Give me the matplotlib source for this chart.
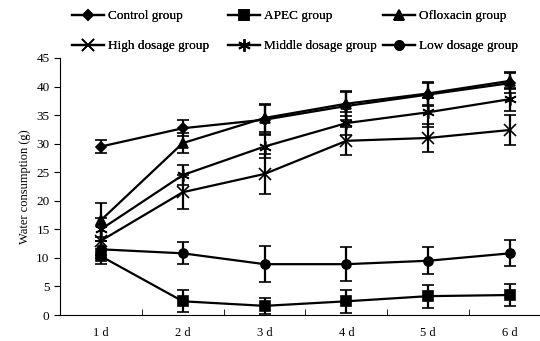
import matplotlib
matplotlib.use("Agg")
import matplotlib.pyplot as plt

days = ["1 d", "2 d", "3 d", "4 d", "5 d", "6 d"]

control = [29.5, 32.7, 34.2, 36.6, 38.6, 40.6]
control_err = [1.2, 1.4, 2.5, 2.5, 2.0, 1.8]
apec = [10.3, 2.4, 1.6, 2.4, 3.3, 3.5]
apec_err = [1.3, 1.9, 1.4, 2.0, 2.0, 2.0]
oflox = [16.6, 30.1, 34.5, 37.0, 38.8, 41.0]
oflox_err = [3.0, 1.8, 2.4, 2.2, 2.0, 1.5]
high = [13.0, 21.5, 24.7, 30.5, 31.0, 32.4]
high_err = [2.5, 3.0, 3.5, 2.5, 2.5, 2.6]
middle = [15.0, 24.5, 29.5, 33.6, 35.5, 37.8]
middle_err = [2.0, 1.8, 2.0, 2.0, 2.5, 2.0]
low = [11.5, 10.8, 8.9, 8.9, 9.5, 10.8]
low_err = [1.5, 1.9, 3.1, 3.0, 2.4, 2.3]

plt.rcParams['font.family'] = ['Liberation Serif', 'DejaVu Serif']

fig = plt.figure(figsize=(5.4, 3.41), dpi=100)
ax = fig.add_axes([60 / 540, 26 / 341, 491 / 540, 257 / 341])

x = list(range(1, 7))
series = [
    ("Control group", control, control_err, "D", 5.5),
    ("APEC group", apec, apec_err, "s", 6.5),
    ("Ofloxacin group", oflox, oflox_err, "^", 6.5),
    ("High dosage group", high, high_err, "x", 8),
    ("Middle dosage group", middle, middle_err, (6, 2, 0), 9),
    ("Low dosage group", low, low_err, "o", 6.5),
]

handles = []
for name, y, e, m, ms in series:
    h = ax.errorbar(x, y, yerr=e, color="black", marker=m, markersize=ms,
                    markeredgewidth=1.2, linewidth=1.6, elinewidth=1.6,
                    capsize=4, capthick=1.6, label=name)
    handles.append(h[0])

ax.set_xlim(0.5, 6.5)
ax.set_ylim(0, 45)
ax.set_yticks(range(0, 46, 5))
ax.set_xticks(x)
ax.set_xticklabels(days)
ax.set_xticks([1.5, 2.5, 3.5, 4.5, 5.5], minor=True)
ax.tick_params(axis="x", which="major", length=0, pad=9, labelsize=9)
ax.tick_params(axis="x", which="minor", direction="in", length=4)
ax.tick_params(axis="y", direction="out", length=4, labelsize=9.5)
ax.spines["top"].set_visible(False)
ax.spines["right"].set_visible(False)
ax.set_ylabel("Water consumption (g)", fontsize=9)

# one legend per column so the columns sit on a fixed grid
col_x = [72, 228, 383]
for j in range(3):
    leg = fig.legend([handles[j], handles[j + 3]],
                     [series[j][0], series[j + 3][0]],
                     loc="upper left", bbox_to_anchor=(col_x[j] / 540, 1 - 10 / 341),
                     frameon=False, fontsize=9.5, borderpad=0, borderaxespad=0,
                     handlelength=2.4, handletextpad=0.3, labelspacing=1.35)
    fig.add_artist(leg)

fig.savefig("out.png", dpi=100)
